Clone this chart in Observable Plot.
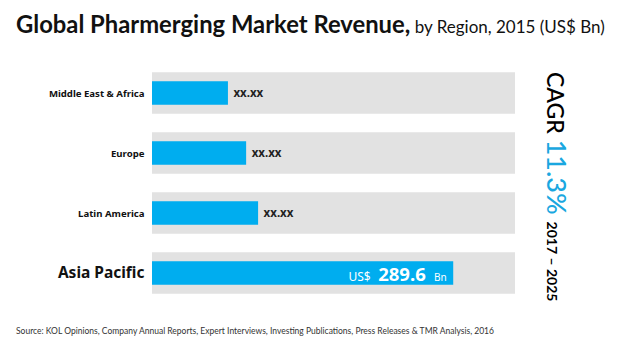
<!DOCTYPE html>
<html>
<head>
<meta charset="utf-8">
<script src="https://cdn.jsdelivr.net/npm/d3@7"></script>
<script src="https://cdn.jsdelivr.net/npm/@observablehq/plot@0.6"></script>
<style>
  html, body { margin:0; padding:0; background:#fff; }
  body { width:620px; height:352px; position:relative; overflow:hidden; font-family: Lato, "Open Sans", sans-serif; }
  #title { position:absolute; left:16px; top:10px; white-space:nowrap; color:#111; }
  #title .b { font-weight:700; font-size:23.8px; }
  #title .n { font-weight:400; font-size:17px; }
  #chart { position:absolute; left:0; top:50px; }
  #cagr { position:absolute; left:571px; top:72px; transform-origin:left top; transform:rotate(90deg); white-space:nowrap; line-height:28px; color:#000; }
  #cagr .c { font-size:23px; font-weight:500; }
  #cagr .v { font-size:27px; color:#1aa7e0; font-weight:500; }
  #cagr .y { font-size:14px; font-weight:700; }
  #source { position:absolute; left:16px; top:326px; font-size:8.5px; color:#333; white-space:nowrap; }
</style>
</head>
<body>
<div id="title"><span class="b">Global Pharmerging Market Revenue,</span><span class="n"> by Region, 2015 (US$ Bn)</span></div>
<div id="chart"></div>
<div id="cagr"><span class="c">CAGR </span><span class="v">11.3% </span><span class="y">2017 – 2025</span></div>
<div id="source">Source: KOL Opinions, Company Annual Reports, Expert Interviews, Investing Publications, Press Releases &amp; TMR Analysis, 2016</div>
<script>
const regions = ["Middle East & Africa", "Europe", "Latin America", "Asia Pacific"];
const revenue = [73, 90.5, 102, 289.6];
const valueLabels = ["xx.xx", "xx.xx", "xx.xx", "289.6"];
const axisMax = 349;
const highlight = "Asia Pacific";

const data = regions.map((r, i) => ({region: r, value: revenue[i], label: valueLabels[i], max: axisMax}));
const hi = data.filter(d => d.region === highlight);
const rest = data.filter(d => d.region !== highlight);

const chart = Plot.plot({
  width: 620,
  height: 272,
  marginLeft: 152,
  marginRight: 105,
  marginTop: 0,
  marginBottom: 0,
  x: {domain: [0, axisMax], axis: null},
  y: {domain: regions, range: [12, 254], padding: 0, axis: null},
  marks: [
    Plot.barX(data, {x1: 0, x2: "max", y: "region", fill: "#e2e2e2", insetTop: 9.25, insetBottom: 9.25}),
    Plot.barX(data, {x: "value", y: "region", fill: "#00adef", insetTop: 18.25, insetBottom: 18.25}),
    Plot.text(data, {x: 0, y: "region", text: "region", textAnchor: "end", dx: -8,
      fontWeight: "bold", fill: "#111",
      fontSize: d => d.region === highlight ? 15.5 : 9.6}),
    Plot.text(rest, {x: "value", y: "region", text: "label", textAnchor: "start", dx: 5,
      fontWeight: "bold", fontSize: 11.5, fill: "#222"}),
    Plot.text(hi, {x: "value", y: "region", text: () => "Bn", textAnchor: "end", dx: -7, dy: 7,
      lineAnchor: "bottom", fontSize: 10, fill: "#fff"}),
    Plot.text(hi, {x: "value", y: "region", text: "label", textAnchor: "end", dx: -28, dy: 7,
      lineAnchor: "bottom", fontSize: 18.5, fontWeight: "bold", fill: "#fff"}),
    Plot.text(hi, {x: "value", y: "region", text: () => "US$", textAnchor: "end", dx: -83, dy: 7,
      lineAnchor: "bottom", fontSize: 12, fill: "#fff"})
  ]
});
document.getElementById("chart").appendChild(chart);
</script>
</body>
</html>
